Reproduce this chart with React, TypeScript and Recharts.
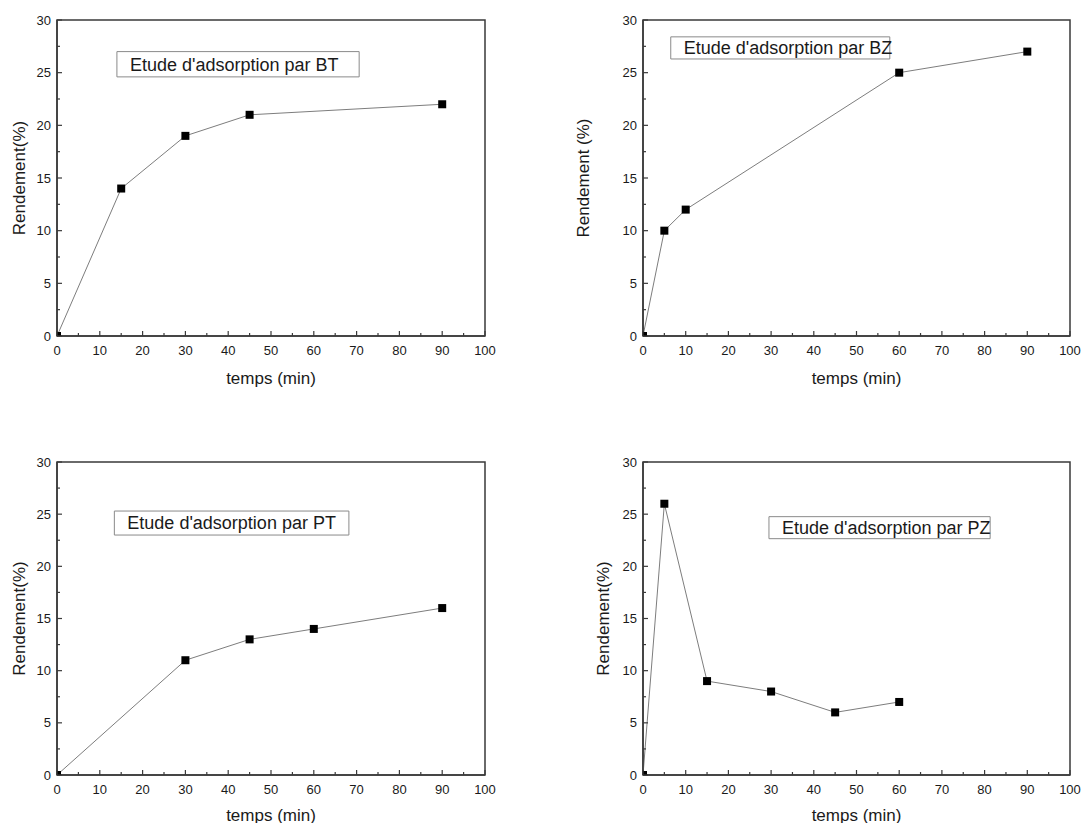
import React from 'react';
import { LineChart, Line, XAxis, YAxis, ReferenceArea } from 'recharts';

// ---- data ----
const btTime = [0, 15, 30, 45, 90];
const btYield = [0, 14, 19, 21, 22];
const bzTime = [0, 5, 10, 60, 90];
const bzYield = [0, 10, 12, 25, 27];
const ptTime = [0, 30, 45, 60, 90];
const ptYield = [0, 11, 13, 14, 16];
const pzTime = [0, 5, 15, 30, 45, 60];
const pzYield = [0, 26, 9, 8, 6, 7];

const xTicks = [0, 5, 10, 15, 20, 25, 30, 35, 40, 45, 50, 55, 60, 65, 70, 75, 80, 85, 90, 95, 100];
const xMajor = [0, 10, 20, 30, 40, 50, 60, 70, 80, 90, 100];
const yTicks = [0, 2.5, 5, 7.5, 10, 12.5, 15, 17.5, 20, 22.5, 25, 27.5, 30];
const yMajor = [0, 5, 10, 15, 20, 25, 30];

const titles = [
  "Etude d'adsorption par BT",
  "Etude d'adsorption par BZ",
  "Etude d'adsorption par PT",
  "Etude d'adsorption par PZ",
];
const yTitles = ['Rendement(%)', 'Rendement (%)', 'Rendement(%)', 'Rendement(%)'];
const xTitle = 'temps (min)';

// annotation box extents in data units [x1, x2, y1, y2]
const boxBT = [14, 70.6, 24.6, 27.0];
const boxBZ = [6.5, 57.8, 26.3, 28.4];
const boxPT = [13.4, 68.2, 23.0, 25.3];
const boxPZ = [29.5, 81.3, 22.65, 24.76];

const FRAME = '#3a3a3a';
const TEXT = '#1a1a1a';

const XTick = (props: any) => {
  const { x, y, payload } = props;
  const v = payload.value;
  const major = xMajor.includes(v);
  return (
    <g>
      <line x1={x} x2={x} y1={y} y2={y - (major ? 5 : 3)} stroke={FRAME} strokeWidth={1.2} />
      {major && (
        <text x={x} y={y + 14} textAnchor="middle" dominantBaseline="central" fontSize={13} fill={TEXT}>
          {v}
        </text>
      )}
    </g>
  );
};

const YTick = (props: any) => {
  const { x, y, payload } = props;
  const v = payload.value;
  const major = yMajor.includes(v);
  return (
    <g>
      <line x1={x} x2={x + (major ? 5 : 3)} y1={y} y2={y} stroke={FRAME} strokeWidth={1.2} />
      {major && (
        <text x={x - 6} y={y} textAnchor="end" dominantBaseline="central" fontSize={13} fill={TEXT}>
          {v}
        </text>
      )}
    </g>
  );
};

const SquareDot = (p: any) => {
  if (p.cx == null || p.cy == null) return <g key={p.index} />;
  return <rect key={p.index} x={p.cx - 4} y={p.cy - 4} width={8} height={8} fill="#000" />;
};

type PanelProps = {
  left: number;
  top: number;
  width: number;
  height: number;
  yAxisWidth: number;
  marginTop: number;
  marginRight: number;
  marginBottom: number;
  xAxisHeight: number;
  xLabelOffset: number;
  yLabelDist: number;
  time: number[];
  values: number[];
  title: string;
  yTitle: string;
  box: number[];
};

const Panel = (p: PanelProps) => {
  const rows = p.time.map((t, i) => ({ t, y: p.values[i] }));
  return (
    <div style={{ position: 'absolute', left: p.left, top: p.top }}>
      <LineChart
        width={p.width}
        height={p.height}
        data={rows}
        margin={{ top: p.marginTop, right: p.marginRight, bottom: p.marginBottom, left: 0 }}
      >
        <XAxis
          dataKey="t"
          type="number"
          domain={[0, 100]}
          ticks={xTicks}
          interval={0}
          allowDataOverflow
          tickSize={0}
          tickMargin={0}
          tick={<XTick />}
          axisLine={{ stroke: FRAME, strokeWidth: 1.5 }}
          height={p.xAxisHeight}
          label={{
            content: (lp: any) => {
              const vb = lp.viewBox;
              return (
                <text
                  x={vb.x + vb.width / 2}
                  y={vb.y + p.xLabelOffset}
                  textAnchor="middle"
                  dominantBaseline="central"
                  fontSize={17}
                  fill={TEXT}
                >
                  {xTitle}
                </text>
              );
            },
          }}
        />
        <YAxis
          type="number"
          domain={[0, 30]}
          ticks={yTicks}
          interval={0}
          allowDataOverflow
          tickSize={0}
          tickMargin={0}
          tick={<YTick />}
          axisLine={{ stroke: FRAME, strokeWidth: 1.5 }}
          width={p.yAxisWidth}
          label={{
            content: (lp: any) => {
              const vb = lp.viewBox;
              const cx = vb.x + vb.width - p.yLabelDist;
              const cy = vb.y + vb.height / 2;
              return (
                <text
                  x={cx}
                  y={cy}
                  transform={`rotate(-90 ${cx} ${cy})`}
                  textAnchor="middle"
                  dominantBaseline="central"
                  fontSize={17}
                  fill={TEXT}
                >
                  {p.yTitle}
                </text>
              );
            },
          }}
        />
        <ReferenceArea
          x1={0}
          x2={100}
          y1={0}
          y2={30}
          fill="none"
          fillOpacity={0}
          stroke={FRAME}
          strokeWidth={1.5}
          ifOverflow="visible"
        />
        <ReferenceArea
          x1={p.box[0]}
          x2={p.box[1]}
          y1={p.box[2]}
          y2={p.box[3]}
          fill="#ffffff"
          fillOpacity={1}
          stroke="#8a8a8a"
          strokeWidth={1}
          ifOverflow="visible"
          label={{ value: p.title, position: 'insideLeft', offset: 13, fontSize: 18, fill: TEXT }}
        />
        <Line
          type="linear"
          dataKey="y"
          stroke="#7d7d7d"
          strokeWidth={1}
          dot={SquareDot}
          activeDot={false}
          isAnimationActive={false}
        />
      </LineChart>
    </div>
  );
};

export default function App() {
  return (
    <div
      style={{
        position: 'absolute',
        left: 0,
        top: 0,
        width: 1081,
        height: 823,
        overflow: 'hidden',
        background: '#fff',
        fontFamily: '"Liberation Sans", Arial, sans-serif',
      }}
    >
      <Panel
        left={0} top={0} width={540} height={410}
        yAxisWidth={57} marginTop={20} marginRight={55} marginBottom={14} xAxisHeight={60}
        xLabelOffset={42} yLabelDist={38}
        time={btTime} values={btYield} title={titles[0]} yTitle={yTitles[0]} box={boxBT}
      />
      <Panel
        left={560} top={0} width={521} height={410}
        yAxisWidth={83} marginTop={20} marginRight={11} marginBottom={14} xAxisHeight={60}
        xLabelOffset={42} yLabelDist={60}
        time={bzTime} values={bzYield} title={titles[1]} yTitle={yTitles[1]} box={boxBZ}
      />
      <Panel
        left={0} top={420} width={540} height={403}
        yAxisWidth={57} marginTop={42} marginRight={55} marginBottom={0} xAxisHeight={48}
        xLabelOffset={40} yLabelDist={38}
        time={ptTime} values={ptYield} title={titles[2]} yTitle={yTitles[2]} box={boxPT}
      />
      <Panel
        left={560} top={420} width={521} height={403}
        yAxisWidth={83} marginTop={42} marginRight={11} marginBottom={0} xAxisHeight={48}
        xLabelOffset={40} yLabelDist={40}
        time={pzTime} values={pzYield} title={titles[3]} yTitle={yTitles[3]} box={boxPZ}
      />
    </div>
  );
}
